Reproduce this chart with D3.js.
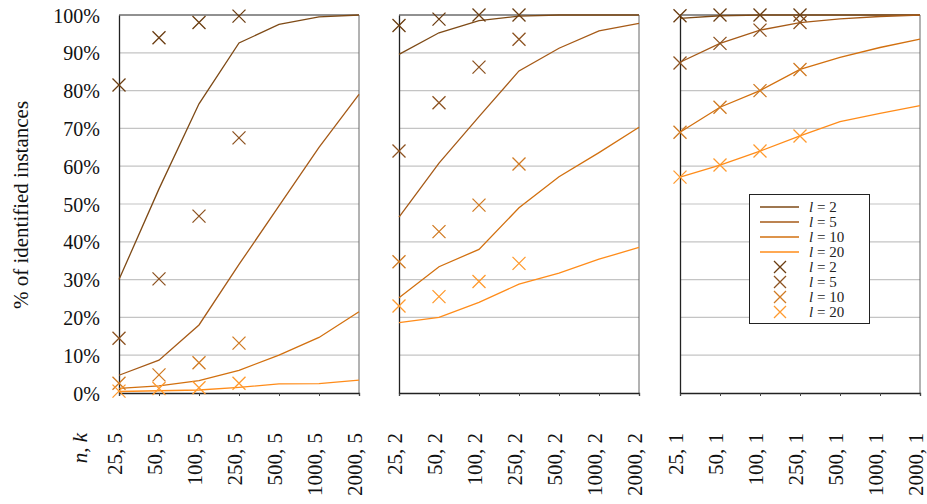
<!DOCTYPE html>
<html><head><meta charset="utf-8">
<script src="https://cdn.jsdelivr.net/npm/d3@7"></script>
<style>body{margin:0;background:#fff}svg{display:block}svg text{font-family:"Liberation Serif","Times New Roman",serif}</style>
</head><body><svg id="c" width="927" height="504"></svg>
<script>
const nValues = ["25","50","100","250","500","1000","2000"];
const kValues = [5, 2, 1];
const lValues = [2, 5, 10, 20];
const yTicks = [0,10,20,30,40,50,60,70,80,90,100];
// model lines, per k panel, per l: 7 values (n = 25..2000)
const lineK5 = [
  [30, 54, 76.5, 92.6, 97.5, 99.5, 100],
  [4.7, 8.7, 18, 34, 49.5, 65, 79],
  [1.2, 1.9, 3.3, 6, 10, 14.7, 21.5],
  [0.4, 0.6, 0.8, 1.5, 2.4, 2.5, 3.4]
];
const lineK2 = [
  [89.6, 95.3, 98.5, 99.7, 100, 100, 100],
  [46.5, 60.8, 73.1, 85.2, 91.2, 95.8, 97.8],
  [25.2, 33.4, 38, 49, 57.2, 63.6, 70.3],
  [18.6, 20, 24, 28.8, 31.7, 35.4, 38.5]
];
const lineK1 = [
  [99.1, 99.8, 100, 100, 100, 100, 100],
  [87.5, 92.5, 96, 98, 99, 99.6, 100],
  [69, 75.6, 80, 85.6, 88.8, 91.4, 93.6],
  [57.1, 60.3, 64, 68, 71.8, 74, 76]
];
// measured points, per k panel, per l: 4 values (n = 25..250)
const ptsK5 = [
  [81.5, 94, 98, 99.7],
  [14.5, 30.2, 46.8, 67.5],
  [2.6, 4.8, 8, 13.2],
  [0.5, 1.2, 1.4, 2.6]
];
const ptsK2 = [
  [97.2, 98.9, 100, 100],
  [64, 76.8, 86.2, 93.6],
  [34.7, 42.7, 49.7, 60.6],
  [23, 25.5, 29.5, 34.3]
];
const ptsK1 = [
  [99.8, 100, 100, 100],
  [87.3, 92.5, 96, 98],
  [69, 75.6, 80, 85.6],
  [57.1, 60.3, 64, 68]
];
const lineData = [lineK5, lineK2, lineK1];
const ptsData = [ptsK5, ptsK2, ptsK1];
const lineColors = ["#7e4a16", "#a65a17", "#d2700f", "#ff8c1a"];
const markColors = ["#6a3c10", "#8c5220", "#d07a22", "#ff9a2e"];
const FONT = "Liberation Serif";

const svg = d3.select("#c");
const panelLeft = [119, 399, 680];
const pw = 240, plotTop = 15, plotBottom = 393;
const y = d3.scaleLinear().domain([0, 100]).range([plotBottom, plotTop]);

kValues.forEach((k, pi) => {
  const x = d3.scalePoint().domain(nValues).range([panelLeft[pi], panelLeft[pi] + pw]);
  const g = svg.append("g");
  g.selectAll("line.grid").data(yTicks.slice(1, -1)).join("line")
    .attr("x1", x.range()[0]).attr("x2", x.range()[1])
    .attr("y1", d => y(d)).attr("y2", d => y(d))
    .attr("stroke", "#c4c4c4").attr("stroke-width", 1.2);
  g.append("line").attr("x1", x.range()[0]).attr("x2", x.range()[1]).attr("y1", plotTop).attr("y2", plotTop).attr("stroke", "#222").attr("stroke-width", 1);
  g.append("line").attr("x1", x.range()[1]).attr("x2", x.range()[1]).attr("y1", plotTop).attr("y2", plotBottom).attr("stroke", "#666").attr("stroke-width", 1);
  const xa = g.append("g").attr("transform", `translate(0,${plotBottom})`)
    .call(d3.axisBottom(x).tickSize(3).tickFormat(""));
  xa.select(".domain").attr("stroke", "#222").attr("stroke-width", 1.3);
  xa.selectAll(".tick line").attr("stroke", "#444");
  const ya = g.append("g").attr("transform", `translate(${x.range()[0]},0)`)
    .call(d3.axisLeft(y).tickValues(yTicks).tickSize(0).tickFormat(d => pi === 0 ? d + "%" : ""));
  ya.attr("font-family", FONT);
  ya.select(".domain").attr("stroke", "#222").attr("stroke-width", 1.3);
  ya.selectAll("text").attr("font-size", 20).attr("font-family", FONT).attr("fill", "#111").attr("x", -19).attr("dy", "0.35em");
  nValues.forEach(n => {
    g.append("text").attr("transform", `translate(${x(n) + 3},433) rotate(-90)`)
      .attr("text-anchor", "end").attr("font-size", 21).attr("font-family", FONT).attr("fill", "#111")
      .text(n + ", " + k);
  });
  const line = d3.line().x((d, i) => x(nValues[i])).y(d => y(d));
  lineData[pi].forEach((vals, li) => {
    g.append("path").attr("d", line(vals)).attr("fill", "none")
      .attr("stroke", lineColors[li]).attr("stroke-width", 1.3);
  });
  ptsData[pi].forEach((vals, li) => {
    vals.forEach((v, i) => {
      const cx = x(nValues[i]), cy = y(v), s = 6.5;
      g.append("path").attr("d", `M${cx - s},${cy - s}L${cx + s},${cy + s}M${cx - s},${cy + s}L${cx + s},${cy - s}`)
        .attr("stroke", markColors[li]).attr("stroke-width", 1.3).attr("fill", "none");
    });
  });
});

const nk = svg.append("text").attr("transform", "translate(87,433) rotate(-90)")
  .attr("text-anchor", "end").attr("font-size", 21).attr("font-family", FONT).attr("fill", "#111");
nk.append("tspan").attr("font-style", "italic").text("n");
nk.append("tspan").text(", ");
nk.append("tspan").attr("font-style", "italic").text("k");

svg.append("text").attr("transform", "translate(28,205) rotate(-90)")
  .attr("text-anchor", "middle").attr("font-size", 21).attr("font-family", FONT).attr("fill", "#111")
  .text("% of identified instances");

const lg = svg.append("g");
lg.append("rect").attr("x", 749.5).attr("y", 194.5).attr("width", 120).attr("height", 129)
  .attr("fill", "#fff").attr("stroke", "#222").attr("stroke-width", 1);
const rowY = d3.scaleLinear().domain([0, 7]).range([207, 312]);
function legendText(yy, l) {
  const t = lg.append("text").attr("x", 809).attr("y", yy + 5).attr("font-size", 15)
    .attr("font-family", FONT).attr("fill", "#222");
  t.append("tspan").attr("font-style", "italic").text("l");
  t.append("tspan").text(" = " + l);
}
lValues.forEach((l, i) => {
  const yy = rowY(i);
  lg.append("line").attr("x1", 760).attr("x2", 799).attr("y1", yy).attr("y2", yy)
    .attr("stroke", lineColors[i]).attr("stroke-width", 1.3);
  legendText(yy, l);
});
lValues.forEach((l, i) => {
  const yy = rowY(i + 4), cx = 780, s = 6;
  lg.append("path").attr("d", `M${cx - s},${yy - s}L${cx + s},${yy + s}M${cx - s},${yy + s}L${cx + s},${yy - s}`)
    .attr("stroke", markColors[i]).attr("stroke-width", 1.3).attr("fill", "none");
  legendText(yy, l);
});
</script></body></html>
